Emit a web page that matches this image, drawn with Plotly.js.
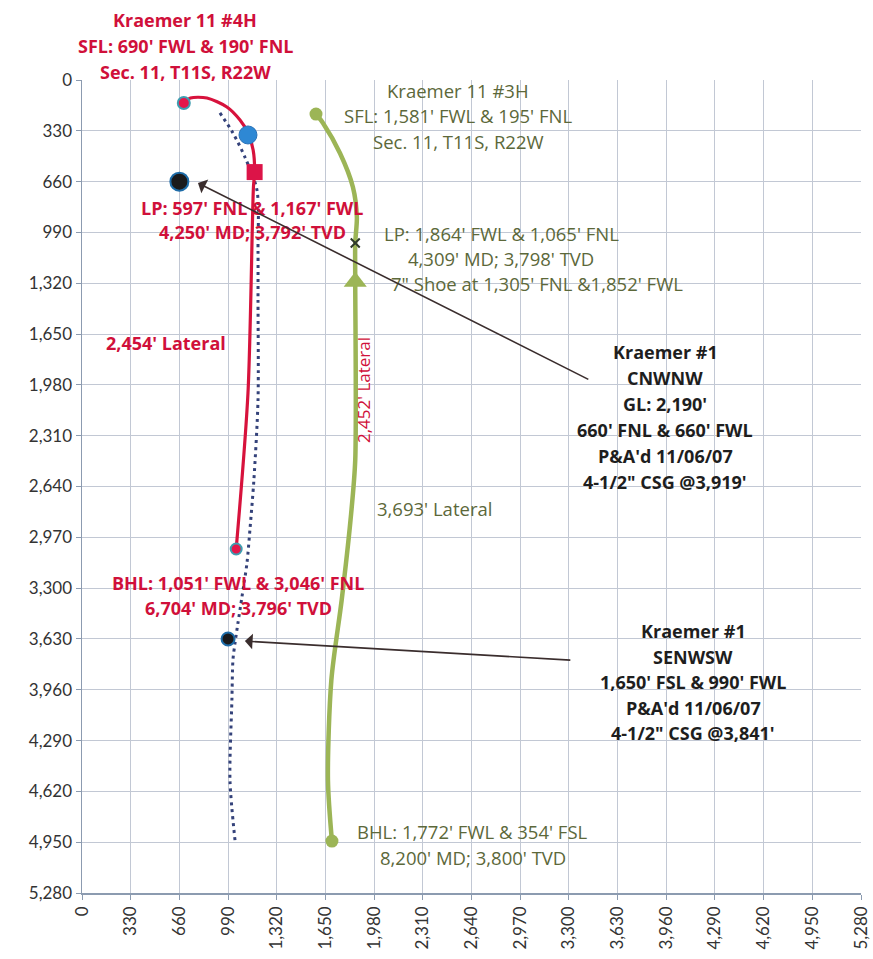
<!DOCTYPE html>
<html><head><meta charset="utf-8">
<script src="https://cdn.plot.ly/plotly-3.0.1.min.js"></script>
<style>html,body{margin:0;padding:0;background:#fff}#chart{width:873px;height:959px}</style>
</head><body><div id="chart"></div><script>
// ---- Data (feet) ----
const ticks = [0,330,660,990,1320,1650,1980,2310,2640,2970,3300,3630,3960,4290,4620,4950,5280];
const tickLabels = ticks.map(v => v.toLocaleString('en-US'));

// Kraemer 11 #4H path
const well4H_x = [690, 735, 847, 982, 1071, 1125, 1160, 1170, 1162, 1125, 1045];
const well4H_y = [149, 117, 117, 175, 260, 344, 455, 598, 695, 2033, 3046];
// Kraemer 11 #3H path
const well3H_x = [1586, 1633, 1748, 1836, 1863, 1852, 1852, 1852, 1820, 1760, 1690, 1667, 1694];
const well3H_y = [221, 279, 474, 695, 890, 1059, 1310, 2469, 2858, 3378, 3898, 4547, 4943];
// dotted path
const dotted_x = [935, 1023, 1104, 1186, 1193, 1193, 1193, 1165, 1138, 1118, 1084, 1057, 1037, 1023, 1016, 1003, 1037];
const dotted_y = [214, 344, 500, 715, 1104, 1429, 2079, 2598, 2923, 3138, 3358, 3527, 3657, 3768, 4028, 4547, 4937];

// markers
const red4H_sfl = {x:[690], y:[149]};
const blue4H = {x:[1125], y:[357]};
const red4H_lp = {x:[1170], y:[598]};
const red4H_bhl = {x:[1045], y:[3046]};
const kraemer1_x = [660, 990];
const kraemer1_y = [660, 3630];
const green3H_sfl = {x:[1586], y:[221]};
const green3H_lp = {x:[1852], y:[1059]};
const green3H_shoe = {x:[1852], y:[1310]};
const green3H_bhl = {x:[1694], y:[4943]};

// arrows: head (x,y) and tail (ax,ay)
const arrows = [
  {x:786, y:669, ax:3442, ay:1949},
  {x:1104, y:3644, ax:3320, ay:3768}
];

// text blocks
const RED = '#D0103A', GRN = '#5C683A', BLK = '#1E1E1E';
const blocks = [
  {lines:["Kraemer 11 #4H","SFL: 690' FWL & 190' FNL","Sec. 11, T11S, R22W"], px:185, py:20, dy:26, color:RED, bold:true},
  {lines:["Kraemer 11 #3H","SFL: 1,581' FWL & 195' FNL","Sec. 11, T11S, R22W"], px:458, py:90, dy:26, color:GRN, bold:false},
  {lines:["LP: 1,864' FWL & 1,065' FNL","4,309' MD; 3,798' TVD"], px:501, py:233, dy:25, color:GRN, bold:false},
  {lines:["7\" Shoe at 1,305' FNL &1,852' FWL"], px:537, py:283, dy:25, color:GRN, bold:false},
  {lines:["LP: 597' FNL & 1,167' FWL","4,250' MD; 3,792' TVD"], px:252, py:208, dy:24, color:RED, bold:true},
  {lines:["2,454' Lateral"], px:166, py:343, dy:25, color:RED, bold:true},
  {lines:["3,693' Lateral"], px:434, py:509, dy:25, color:GRN, bold:false},
  {lines:["Kraemer #1","CNWNW","GL: 2,190'","660' FNL & 660' FWL","P&A'd 11/06/07","4-1/2\" CSG @3,919'"], px:665, py:352, dy:26, color:BLK, bold:true},
  {lines:["Kraemer #1","SENWSW","1,650' FSL & 990' FWL","P&A'd 11/06/07","4-1/2\" CSG @3,841'"], px:693, py:631, dy:25.6, color:BLK, bold:true},
  {lines:["BHL: 1,051' FWL & 3,046' FNL","6,704' MD; 3,796' TVD"], px:238, py:583, dy:25, color:RED, bold:true},
  {lines:["BHL: 1,772' FWL & 354' FSL","8,200' MD; 3,800' TVD"], px:473, py:831, dy:26, color:GRN, bold:false}
];
const rotatedLabel = {text:"2,452' Lateral", px:363, py:390, color:RED};

// ---- layout geometry ----
const L=82, R=861, T=80, B=893;
const W=873, H=959;
const FONT = '"Open Sans", Lato, sans-serif';
const TICKFONT = 'Lato, "Open Sans", sans-serif';
const px2x = p => (p-L)/(R-L);
const py2y = p => (B-p)/(B-T);

const annotations = [];
blocks.forEach(b => {
  b.lines.forEach((t,i) => {
    annotations.push({xref:'paper', yref:'paper', x:px2x(b.px), y:py2y(b.py + i*b.dy),
      text: b.bold ? '<b>'+t+'</b>' : t, showarrow:false, xanchor:'center', yanchor:'middle',
      font:{family:FONT, size:b.bold ? 18 : 18.5, color:b.color}});
  });
});
annotations.push({xref:'paper', yref:'paper', x:px2x(rotatedLabel.px), y:py2y(rotatedLabel.py),
  text:rotatedLabel.text, textangle:-90, showarrow:false, xanchor:'center', yanchor:'middle',
  font:{family:FONT, size:17, color:rotatedLabel.color}});
arrows.forEach(a => {
  annotations.push({xref:'x', yref:'y', axref:'x', ayref:'y', x:a.x, y:a.y, ax:a.ax, ay:a.ay,
    text:'', showarrow:true, arrowhead:1, arrowsize:1.6, arrowwidth:1.6, arrowcolor:'#3A2D2D', standoff:0});
});

const traces = [
  {x:dotted_x, y:dotted_y, mode:'lines', line:{color:'#34427A', width:3, dash:'3px,4px', shape:'spline', smoothing:0.8}, hoverinfo:'skip'},
  {x:well4H_x, y:well4H_y, mode:'lines', line:{color:'#D7123C', width:3.2, shape:'spline', smoothing:0.8}},
  {x:well3H_x, y:well3H_y, mode:'lines', line:{color:'#9CB556', width:4.5, shape:'spline', smoothing:0.8}},
  {x:red4H_sfl.x, y:red4H_sfl.y, mode:'markers', marker:{size:12, color:'#E3174A', line:{color:'#3E9DB0', width:2}}},
  {x:blue4H.x, y:blue4H.y, mode:'markers', marker:{size:18, color:'#2E88D4', line:{color:'#2A72B8', width:1}}},
  {x:red4H_lp.x, y:red4H_lp.y, mode:'markers', marker:{symbol:'square', size:16, color:'#DC1448'}},
  {x:red4H_bhl.x, y:red4H_bhl.y, mode:'markers', marker:{size:11, color:'#E3174A', line:{color:'#3E9DB0', width:2}}},
  {x:kraemer1_x, y:kraemer1_y, mode:'markers', marker:{size:[18,13], color:'#1A1A1C', opacity:1, line:{color:'#1E6CA8', width:2}}},
  {x:green3H_sfl.x, y:green3H_sfl.y, mode:'markers', marker:{size:13, color:'#9CB556'}},
  {x:green3H_bhl.x, y:green3H_bhl.y, mode:'markers', marker:{size:13, color:'#9CB556'}},
  {x:green3H_shoe.x, y:green3H_shoe.y, mode:'markers', marker:{symbol:'triangle-up', size:20, color:'#9CB556'}},
  {x:green3H_lp.x, y:green3H_lp.y, mode:'markers', marker:{symbol:'x-thin', size:9, color:'#2E3A2A', line:{color:'#2E3A2A', width:2}}}
];

const axisCommon = {tickvals:ticks, ticktext:tickLabels, showgrid:true, gridcolor:'#C2C8D4', gridwidth:1,
  zeroline:false, showline:true, linecolor:'#8C9BB0', linewidth:1.5, ticks:'outside', ticklen:5,
  tickcolor:'#8C9BB0', tickfont:{family:TICKFONT, size:17, color:'#333'}};

const layout = {
  width:W, height:H, margin:{l:L, r:W-R, t:T, b:H-B}, showlegend:false,
  paper_bgcolor:'#fff', plot_bgcolor:'#fff',
  xaxis:Object.assign({}, axisCommon, {range:[0,5280], tickangle:-90}),
  yaxis:Object.assign({}, axisCommon, {range:[5280,0]}),
  annotations:annotations
};
Plotly.newPlot('chart', traces, layout, {displayModeBar:false, staticPlot:true});
</script></body></html>
